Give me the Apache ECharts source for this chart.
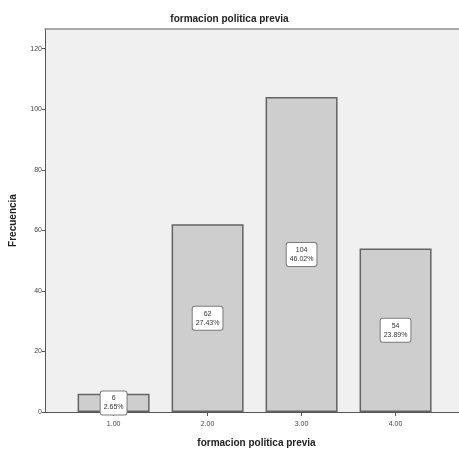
<!DOCTYPE html>
<html>
<head>
<meta charset="utf-8">
<script src="https://cdn.jsdelivr.net/npm/echarts@6/dist/echarts.min.js"></script>
<style>html,body{margin:0;padding:0;background:#fff}#c{width:459px;height:455px}</style>
</head>
<body>
<div id="c"></div>
<script>
const categories = [1, 2, 3, 4];
const tickLabels = ['1.00', '2.00', '3.00', '4.00'];
const counts = [6, 62, 104, 54];
const percents = ['2.65%', '27.43%', '46.02%', '23.89%'];
const yTicks = [0, 20, 40, 60, 80, 100, 120];

const chart = echarts.init(document.getElementById('c'), null, {renderer: 'canvas'});
const font = "'Liberation Sans', Arial, sans-serif";
const xMin = 0.27, xMax = 4.675;
chart.setOption({
  animation: false,
  backgroundColor: '#ffffff',
  title: {
    text: 'formacion politica previa',
    left: 'center', top: 9,
    textStyle: {fontFamily: font, fontSize: 10, fontWeight: 'bold', color: '#222'}
  },
  grid: {
    left: 45, right: 0, top: 29, bottom: 43,
    show: true, backgroundColor: '#f0f0f0', borderWidth: 0
  },
  xAxis: [{
    type: 'value', min: xMin, max: xMax,
    name: 'formacion politica previa', nameLocation: 'middle', nameGap: 26,
    nameTextStyle: {fontFamily: font, fontSize: 10, fontWeight: 'bold', color: '#222', padding: [0, 0, 0, 9]},
    axisLine: {show: true, onZero: false, lineStyle: {color: '#555', width: 1}},
    axisTick: {show: true, customValues: categories, length: 4, lineStyle: {color: '#555'}},
    axisLabel: {customValues: categories, formatter: v => tickLabels[categories.indexOf(v)] || '',
      fontFamily: font, fontSize: 7, color: '#444', margin: 9},
    splitLine: {show: false}
  }, {
    type: 'value', position: 'top', min: xMin, max: xMax,
    axisLine: {show: true, onZero: false, lineStyle: {color: '#8e8e8e', width: 1.5}},
    axisTick: {show: false}, axisLabel: {show: false}, splitLine: {show: false}
  }],
  yAxis: {
    type: 'value', min: 0, max: 126.5,
    name: 'Frecuencia', nameLocation: 'middle', nameRotate: 90, nameGap: 27,
    nameTextStyle: {fontFamily: font, fontSize: 10, fontWeight: 'bold', color: '#222'},
    axisLine: {show: true, lineStyle: {color: '#555', width: 1}},
    axisTick: {show: true, customValues: yTicks, length: 3, lineStyle: {color: '#555'}},
    axisLabel: {customValues: yTicks, fontFamily: font, fontSize: 7, color: '#444', margin: 3},
    splitLine: {show: false}
  },
  series: [{
    type: 'bar',
    barWidth: 72,
    data: categories.map((c, i) => [c, counts[i]]),
    itemStyle: {color: '#cecece', borderColor: '#646464', borderWidth: 1.5},
    label: {
      show: true, position: 'inside',
      formatter: p => counts[p.dataIndex] + '\n' + percents[p.dataIndex],
      fontFamily: font, fontSize: 7, lineHeight: 9, color: '#333',
      backgroundColor: '#ffffff', borderColor: '#7a7a7a', borderWidth: 1, borderRadius: 2,
      padding: [3, 3, 2, 3]
    }
  }]
});
</script>
</body>
</html>
